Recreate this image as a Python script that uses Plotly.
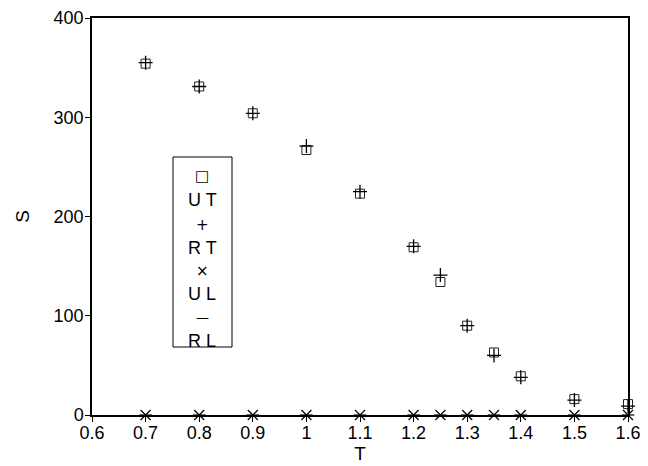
import plotly.graph_objects as go

# Temperature values
T = [0.7, 0.8, 0.9, 1.0, 1.1, 1.2, 1.25, 1.3, 1.35, 1.4, 1.5, 1.6]

# S for each series
S_UT = [354, 331, 304, 267, 223, 169, 134, 90, 63, 39, 16, 11]
S_RT = [355, 331, 304, 271, 225, 170, 141, 90, 60, 38, 15, 9]
S_UL = [0, 0, 0, 0, 0, 0, 0, 0, 0, 0, 0, 0]
S_RL = [0, 0, 0, 0, 0, 0, 0, 0, 0, 0, 0, 0]

x_ticks = [0.6, 0.7, 0.8, 0.9, 1.0, 1.1, 1.2, 1.3, 1.4, 1.5, 1.6]
y_ticks = [0, 100, 200, 300, 400]

FONT = "Liberation Sans, Arial, Helvetica, sans-serif"

fig = go.Figure()
fig.add_trace(go.Scatter(x=T, y=S_RL, mode="markers", name="R L", cliponaxis=False,
                         marker=dict(symbol="line-ew-open", size=9, color="black",
                                     line=dict(color="black", width=1.2))))
fig.add_trace(go.Scatter(x=T, y=S_UL, mode="markers", name="U L", cliponaxis=False,
                         marker=dict(symbol="x-thin-open", size=10, color="black",
                                     line=dict(color="black", width=1.2))))
fig.add_trace(go.Scatter(x=T, y=S_UT, mode="markers", name="U T", cliponaxis=False,
                         marker=dict(symbol="square-open", size=9, color="#222222",
                                     line=dict(color="#222222", width=1))))
fig.add_trace(go.Scatter(x=T, y=S_RT, mode="markers", name="R T", cliponaxis=False,
                         marker=dict(symbol="cross-thin-open", size=10, color="black",
                                     line=dict(color="black", width=1.3))))

# Legend box drawn as a framed panel with stacked symbol/label pairs
fig.add_shape(type="rect", xref="paper", yref="paper",
              x0=(173 - 92) / 536, x1=(232 - 92) / 536,
              y0=(415 - 347) / 397, y1=(415 - 157) / 397,
              line=dict(color="black", width=1), fillcolor="white", layer="above")

legend_items = [("□", "U T", 176, 200), ("+", "R T", 225, 248),
                ("×", "U L", 271, 294), ("—", "R L", 317, 341)]
for sym, label, ys, yl in legend_items:
    fig.add_annotation(xref="paper", yref="paper", x=(202 - 92) / 536,
                       y=(415 - ys) / 397, text=sym, showarrow=False,
                       xanchor="center", yanchor="middle",
                       font=dict(family="DejaVu Sans", size=13 if sym == "—" else 15,
                                 color="black"))
    fig.add_annotation(xref="paper", yref="paper", x=(202 - 92) / 536,
                       y=(415 - yl) / 397, text=label, showarrow=False,
                       xanchor="center", yanchor="middle",
                       font=dict(family=FONT, size=18, color="black"))

axis_common = dict(showline=True, linecolor="black", linewidth=1.5, mirror=True,
                   ticks="outside", ticklen=5, tickwidth=1.2, tickcolor="black",
                   showgrid=False, zeroline=False, automargin=False,
                   tickfont=dict(family=FONT, size=18, color="black"))

fig.update_xaxes(range=[0.6, 1.6], tickvals=x_ticks, ticklabelstandoff=-4,
                 ticktext=["0.6", "0.7", "0.8", "0.9", "1", "1.1", "1.2", "1.3", "1.4", "1.5", "1.6"],
                 title=dict(text="T", font=dict(family=FONT, size=19, color="black"), standoff=3),
                 **axis_common)
fig.update_yaxes(range=[0, 400], tickvals=y_ticks, ticklabelstandoff=-2,
                 title=dict(text="S", font=dict(family=FONT, size=19, color="black"), standoff=19),
                 **axis_common)

fig.update_layout(width=648, height=466, showlegend=False,
                  margin=dict(l=92, r=20, t=18, b=51),
                  plot_bgcolor="white", paper_bgcolor="white")

fig.write_html("out.html")
